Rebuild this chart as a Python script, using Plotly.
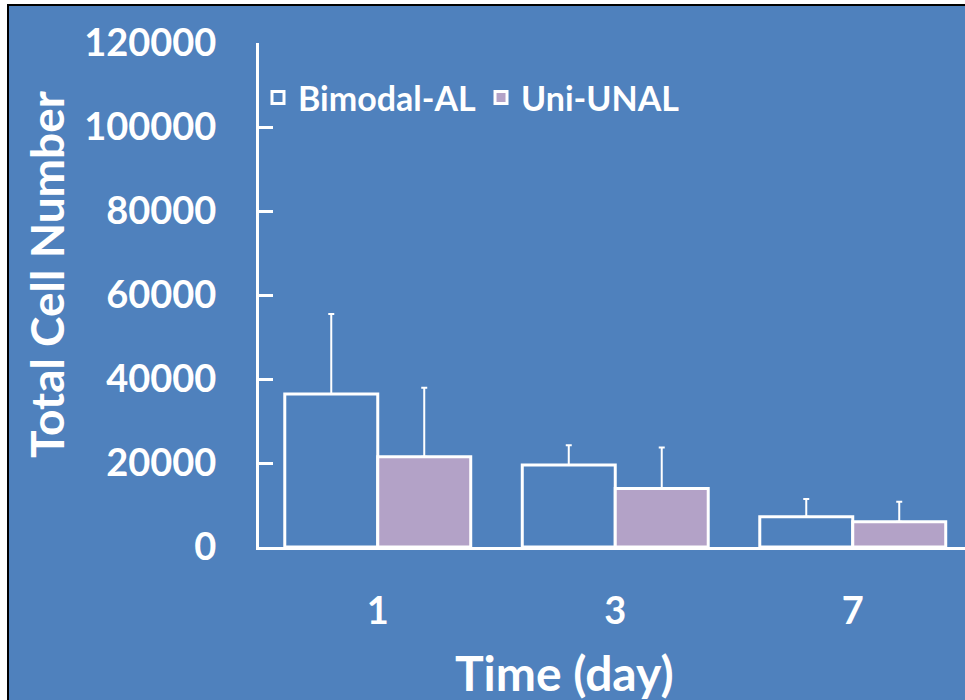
import plotly.graph_objects as go

days = ["1", "3", "7"]
bimodal = [36400, 19500, 7200]
bimodal_err = [19100, 4700, 4200]
uni = [21500, 13900, 6000]
uni_err = [16400, 9800, 4800]
y_ticks = [0, 20000, 40000, 60000, 80000, 100000, 120000]

BG = "#4F81BD"
PURPLE = "#B3A2C7"
FONT = "Lato"

W, H = 965, 700
L, R, T, B = 259, 0, 43, 153
pw, ph = W - L - R, H - T - B

def px2x(p):
    return (p - L) / pw

def px2y(p):
    return (H - B - p) / ph

fig = go.Figure()
fig.add_trace(go.Bar(
    name="Bimodal-AL", x=days, y=bimodal,
    marker=dict(color=BG, line=dict(color="white", width=3)),
    error_y=dict(type="data", array=bimodal_err, arrayminus=[0] * 3, symmetric=False,
                 color="white", thickness=2, width=3),
))
fig.add_trace(go.Bar(
    name="Uni-UNAL", x=days, y=uni,
    marker=dict(color=PURPLE, line=dict(color="white", width=3)),
    error_y=dict(type="data", array=uni_err, arrayminus=[0] * 3, symmetric=False,
                 color="white", thickness=2, width=3),
))

frame = [
    dict(type="rect", xref="paper", yref="paper", layer="below", line=dict(width=0),
         fillcolor="white", x0=px2x(-5), x1=px2x(7), y0=px2y(720), y1=px2y(-5)),
    dict(type="rect", xref="paper", yref="paper", layer="below", line=dict(width=0),
         fillcolor="white", x0=px2x(-5), x1=px2x(980), y0=px2y(4), y1=px2y(-5)),
    dict(type="line", xref="paper", yref="paper", layer="below", line=dict(color="black", width=2),
         x0=px2x(8), x1=px2x(8), y0=px2y(5), y1=px2y(720)),
    dict(type="line", xref="paper", yref="paper", layer="below", line=dict(color="black", width=2),
         x0=px2x(7), x1=px2x(980), y0=px2y(5), y1=px2y(5)),
]

fig.update_layout(
    width=W, height=H,
    margin=dict(l=L, r=R, t=T, b=B, pad=0),
    paper_bgcolor=BG,
    plot_bgcolor="rgba(0,0,0,0)",
    barmode="group", bargap=0.217, bargroupgap=0,
    font=dict(family=FONT, color="white", weight="bold"),
    showlegend=True,
    legend=dict(orientation="h", x=px2x(258), xanchor="left", y=px2y(98), yanchor="middle",
                font=dict(size=34, family=FONT, color="white", weight="bold"),
                bgcolor="rgba(0,0,0,0)"),
    xaxis=dict(type="category", range=[-0.5, -0.5 + pw / 237.5], showline=True, linecolor="white",
               linewidth=3, ticks="", showgrid=False, zeroline=False,
               tickfont=dict(size=38, family=FONT, color="white", weight="bold"),
               ticklabelstandoff=28),
    yaxis=dict(range=[0, 120000], tickvals=y_ticks, ticktext=[str(v) for v in y_ticks],
               showline=True, linecolor="white", linewidth=3, ticks="inside", ticklen=14,
               tickwidth=3, tickcolor="white", showgrid=False, zeroline=False,
               tickfont=dict(size=38, family=FONT, color="white", weight="bold"),
               ticklabelstandoff=32),
    shapes=frame,
    annotations=[
        dict(text="Total Cell Number", xref="paper", yref="paper", x=px2x(46), y=px2y(275),
             textangle=-90, showarrow=False, xanchor="center", yanchor="middle",
             font=dict(size=46, family=FONT, color="white", weight="bold")),
        dict(text="Time (day)", xref="paper", yref="paper", x=px2x(564), y=px2y(672),
             showarrow=False, xanchor="center", yanchor="middle",
             font=dict(size=48, family=FONT, color="white", weight="bold")),
    ],
)

fig.write_html(
    "out.html", config={"displayModeBar": False},
    post_script=("document.body.style.margin='0';"
                 "document.body.style.overflow='hidden';"
                 "document.documentElement.style.overflow='hidden';"
                 "document.body.style.background='" + BG + "';"),
)
